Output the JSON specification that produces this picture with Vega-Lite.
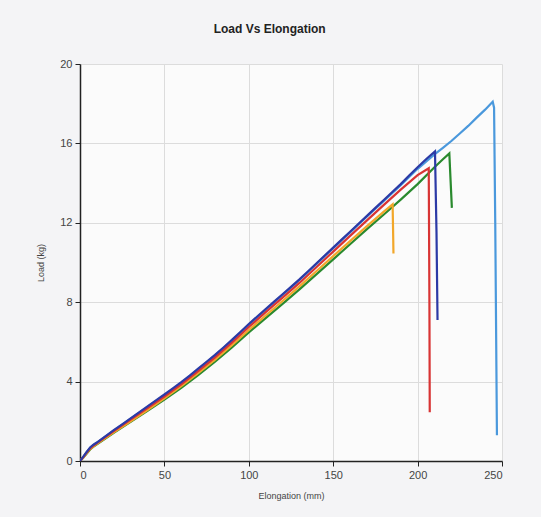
{
  "$schema": "https://vega.github.io/schema/vega-lite/v6.json",
  "autosize": "none",
  "width": 422,
  "height": 397,
  "padding": {"left": 80, "top": 64, "right": 39, "bottom": 56},
  "background": "#f4f4f6",
  "config": {
    "view": {"stroke": null, "fill": "#ffffff", "fillOpacity": 0.6},
    "font": "Liberation Sans"
  },
  "title": {
    "text": "Load Vs Elongation",
    "fontSize": 12,
    "fontWeight": "bold",
    "color": "#222222",
    "frame": "bounds",
    "anchor": "middle",
    "offset": 22
  },
  "datasets": {
    "curves": [
      {"s": "A", "i": 0, "x": 0, "y": 0}, {"s": "A", "i": 1, "x": 2, "y": 0.22}, {"s": "A", "i": 2, "x": 4, "y": 0.46}, {"s": "A", "i": 3, "x": 6, "y": 0.67}, {"s": "A", "i": 4, "x": 8, "y": 0.81}, {"s": "A", "i": 5, "x": 10, "y": 0.92}, {"s": "A", "i": 6, "x": 20, "y": 1.53}, {"s": "A", "i": 7, "x": 30, "y": 2.13}, {"s": "A", "i": 8, "x": 40, "y": 2.72}, {"s": "A", "i": 9, "x": 50, "y": 3.32}, {"s": "A", "i": 10, "x": 60, "y": 3.94}, {"s": "A", "i": 11, "x": 70, "y": 4.62}, {"s": "A", "i": 12, "x": 80, "y": 5.32}, {"s": "A", "i": 13, "x": 90, "y": 6.07}, {"s": "A", "i": 14, "x": 100, "y": 6.86}, {"s": "A", "i": 15, "x": 110, "y": 7.62}, {"s": "A", "i": 16, "x": 120, "y": 8.37}, {"s": "A", "i": 17, "x": 130, "y": 9.12}, {"s": "A", "i": 18, "x": 140, "y": 9.92}, {"s": "A", "i": 19, "x": 150, "y": 10.72}, {"s": "A", "i": 20, "x": 160, "y": 11.52}, {"s": "A", "i": 21, "x": 170, "y": 12.32}, {"s": "A", "i": 22, "x": 180, "y": 13.1}, {"s": "A", "i": 23, "x": 190, "y": 13.9}, {"s": "A", "i": 24, "x": 200, "y": 14.72}, {"s": "A", "i": 25, "x": 210, "y": 15.45}, {"s": "A", "i": 26, "x": 215, "y": 15.78}, {"s": "A", "i": 27, "x": 220, "y": 16.12}, {"s": "A", "i": 28, "x": 225, "y": 16.5}, {"s": "A", "i": 29, "x": 230, "y": 16.88}, {"s": "A", "i": 30, "x": 235, "y": 17.3}, {"s": "A", "i": 31, "x": 240, "y": 17.7}, {"s": "A", "i": 32, "x": 244.5, "y": 18.1}, {"s": "A", "i": 33, "x": 245.3, "y": 17.8}, {"s": "A", "i": 34, "x": 246, "y": 12}, {"s": "A", "i": 35, "x": 247, "y": 1.3},

      {"s": "G", "i": 0, "x": 0, "y": 0}, {"s": "G", "i": 1, "x": 2, "y": 0.17}, {"s": "G", "i": 2, "x": 4, "y": 0.38}, {"s": "G", "i": 3, "x": 6, "y": 0.58}, {"s": "G", "i": 4, "x": 8, "y": 0.72}, {"s": "G", "i": 5, "x": 10, "y": 0.84}, {"s": "G", "i": 6, "x": 20, "y": 1.42}, {"s": "G", "i": 7, "x": 30, "y": 1.97}, {"s": "G", "i": 8, "x": 40, "y": 2.53}, {"s": "G", "i": 9, "x": 50, "y": 3.1}, {"s": "G", "i": 10, "x": 60, "y": 3.69}, {"s": "G", "i": 11, "x": 70, "y": 4.33}, {"s": "G", "i": 12, "x": 80, "y": 5.0}, {"s": "G", "i": 13, "x": 90, "y": 5.72}, {"s": "G", "i": 14, "x": 100, "y": 6.48}, {"s": "G", "i": 15, "x": 110, "y": 7.2}, {"s": "G", "i": 16, "x": 120, "y": 7.92}, {"s": "G", "i": 17, "x": 130, "y": 8.65}, {"s": "G", "i": 18, "x": 140, "y": 9.4}, {"s": "G", "i": 19, "x": 150, "y": 10.16}, {"s": "G", "i": 20, "x": 160, "y": 10.92}, {"s": "G", "i": 21, "x": 170, "y": 11.68}, {"s": "G", "i": 22, "x": 180, "y": 12.42}, {"s": "G", "i": 23, "x": 190, "y": 13.17}, {"s": "G", "i": 24, "x": 200, "y": 13.95}, {"s": "G", "i": 25, "x": 210, "y": 14.8}, {"s": "G", "i": 26, "x": 215, "y": 15.2}, {"s": "G", "i": 27, "x": 218.8, "y": 15.5}, {"s": "G", "i": 28, "x": 219.5, "y": 14.2}, {"s": "G", "i": 29, "x": 220.3, "y": 12.75},

      {"s": "O", "i": 0, "x": 0, "y": 0}, {"s": "O", "i": 1, "x": 2, "y": 0.18}, {"s": "O", "i": 2, "x": 4, "y": 0.4}, {"s": "O", "i": 3, "x": 6, "y": 0.6}, {"s": "O", "i": 4, "x": 8, "y": 0.74}, {"s": "O", "i": 5, "x": 10, "y": 0.86}, {"s": "O", "i": 6, "x": 20, "y": 1.44}, {"s": "O", "i": 7, "x": 30, "y": 2.0}, {"s": "O", "i": 8, "x": 40, "y": 2.57}, {"s": "O", "i": 9, "x": 50, "y": 3.16}, {"s": "O", "i": 10, "x": 60, "y": 3.77}, {"s": "O", "i": 11, "x": 70, "y": 4.43}, {"s": "O", "i": 12, "x": 80, "y": 5.11}, {"s": "O", "i": 13, "x": 90, "y": 5.84}, {"s": "O", "i": 14, "x": 100, "y": 6.6}, {"s": "O", "i": 15, "x": 110, "y": 7.33}, {"s": "O", "i": 16, "x": 120, "y": 8.06}, {"s": "O", "i": 17, "x": 130, "y": 8.8}, {"s": "O", "i": 18, "x": 140, "y": 9.56}, {"s": "O", "i": 19, "x": 150, "y": 10.32}, {"s": "O", "i": 20, "x": 160, "y": 11.08}, {"s": "O", "i": 21, "x": 170, "y": 11.83}, {"s": "O", "i": 22, "x": 180, "y": 12.56}, {"s": "O", "i": 23, "x": 185.2, "y": 12.93}, {"s": "O", "i": 24, "x": 185.5, "y": 11.5}, {"s": "O", "i": 25, "x": 185.7, "y": 10.45},

      {"s": "R", "i": 0, "x": 0, "y": 0}, {"s": "R", "i": 1, "x": 2, "y": 0.2}, {"s": "R", "i": 2, "x": 4, "y": 0.43}, {"s": "R", "i": 3, "x": 6, "y": 0.64}, {"s": "R", "i": 4, "x": 8, "y": 0.78}, {"s": "R", "i": 5, "x": 10, "y": 0.9}, {"s": "R", "i": 6, "x": 20, "y": 1.5}, {"s": "R", "i": 7, "x": 30, "y": 2.08}, {"s": "R", "i": 8, "x": 40, "y": 2.66}, {"s": "R", "i": 9, "x": 50, "y": 3.25}, {"s": "R", "i": 10, "x": 60, "y": 3.86}, {"s": "R", "i": 11, "x": 70, "y": 4.53}, {"s": "R", "i": 12, "x": 80, "y": 5.22}, {"s": "R", "i": 13, "x": 90, "y": 5.96}, {"s": "R", "i": 14, "x": 100, "y": 6.75}, {"s": "R", "i": 15, "x": 110, "y": 7.5}, {"s": "R", "i": 16, "x": 120, "y": 8.23}, {"s": "R", "i": 17, "x": 130, "y": 8.97}, {"s": "R", "i": 18, "x": 140, "y": 9.76}, {"s": "R", "i": 19, "x": 150, "y": 10.55}, {"s": "R", "i": 20, "x": 160, "y": 11.34}, {"s": "R", "i": 21, "x": 170, "y": 12.12}, {"s": "R", "i": 22, "x": 180, "y": 12.9}, {"s": "R", "i": 23, "x": 190, "y": 13.67}, {"s": "R", "i": 24, "x": 200, "y": 14.4}, {"s": "R", "i": 25, "x": 206.6, "y": 14.75}, {"s": "R", "i": 26, "x": 207.0, "y": 8}, {"s": "R", "i": 27, "x": 207.2, "y": 2.45},

      {"s": "B", "i": 0, "x": 0, "y": 0}, {"s": "B", "i": 1, "x": 2, "y": 0.22}, {"s": "B", "i": 2, "x": 4, "y": 0.46}, {"s": "B", "i": 3, "x": 6, "y": 0.68}, {"s": "B", "i": 4, "x": 8, "y": 0.82}, {"s": "B", "i": 5, "x": 10, "y": 0.93}, {"s": "B", "i": 6, "x": 15, "y": 1.24}, {"s": "B", "i": 7, "x": 20, "y": 1.55}, {"s": "B", "i": 8, "x": 25, "y": 1.85}, {"s": "B", "i": 9, "x": 30, "y": 2.15}, {"s": "B", "i": 10, "x": 35, "y": 2.45}, {"s": "B", "i": 11, "x": 40, "y": 2.75}, {"s": "B", "i": 12, "x": 45, "y": 3.05}, {"s": "B", "i": 13, "x": 50, "y": 3.35}, {"s": "B", "i": 14, "x": 55, "y": 3.66}, {"s": "B", "i": 15, "x": 60, "y": 3.97}, {"s": "B", "i": 16, "x": 65, "y": 4.3}, {"s": "B", "i": 17, "x": 70, "y": 4.65}, {"s": "B", "i": 18, "x": 75, "y": 5.0}, {"s": "B", "i": 19, "x": 80, "y": 5.35}, {"s": "B", "i": 20, "x": 85, "y": 5.72}, {"s": "B", "i": 21, "x": 90, "y": 6.1}, {"s": "B", "i": 22, "x": 95, "y": 6.5}, {"s": "B", "i": 23, "x": 100, "y": 6.9}, {"s": "B", "i": 24, "x": 105, "y": 7.28}, {"s": "B", "i": 25, "x": 110, "y": 7.66}, {"s": "B", "i": 26, "x": 115, "y": 8.03}, {"s": "B", "i": 27, "x": 120, "y": 8.4}, {"s": "B", "i": 28, "x": 125, "y": 8.77}, {"s": "B", "i": 29, "x": 130, "y": 9.15}, {"s": "B", "i": 30, "x": 135, "y": 9.55}, {"s": "B", "i": 31, "x": 140, "y": 9.95}, {"s": "B", "i": 32, "x": 145, "y": 10.35}, {"s": "B", "i": 33, "x": 150, "y": 10.75}, {"s": "B", "i": 34, "x": 155, "y": 11.15}, {"s": "B", "i": 35, "x": 160, "y": 11.55}, {"s": "B", "i": 36, "x": 165, "y": 11.95}, {"s": "B", "i": 37, "x": 170, "y": 12.35}, {"s": "B", "i": 38, "x": 175, "y": 12.75}, {"s": "B", "i": 39, "x": 180, "y": 13.15}, {"s": "B", "i": 40, "x": 185, "y": 13.55}, {"s": "B", "i": 41, "x": 190, "y": 13.95}, {"s": "B", "i": 42, "x": 195, "y": 14.38}, {"s": "B", "i": 43, "x": 200, "y": 14.8}, {"s": "B", "i": 44, "x": 205, "y": 15.2}, {"s": "B", "i": 45, "x": 210.3, "y": 15.6}, {"s": "B", "i": 46, "x": 211.2, "y": 11.5}, {"s": "B", "i": 47, "x": 211.8, "y": 7.1}
    ]
  },
  "data": {"name": "curves"},
  "mark": {"type": "line", "strokeWidth": 2.2, "clip": true},
  "encoding": {
    "x": {
      "field": "x",
      "type": "quantitative",
      "scale": {"domain": [0, 250], "nice": false},
      "axis": {
        "title": "Elongation (mm)",
        "values": [0, 50, 100, 150, 200, 250],
        "titleFontSize": 9,
        "titleFontWeight": "normal",
        "titleColor": "#444444",
        "titlePadding": 11,
        "labelFontSize": 11,
        "labelColor": "#444444",
        "labelPadding": 3,
        "domainColor": "#222222",
        "domainWidth": 1.5,
        "tickColor": "#222222",
        "tickSize": 5,
        "gridColor": "#dcdcdc"
      }
    },
    "y": {
      "field": "y",
      "type": "quantitative",
      "scale": {"domain": [0, 20], "nice": false},
      "axis": {
        "title": "Load (kg)",
        "values": [0, 4, 8, 12, 16, 20],
        "titleFontSize": 9,
        "titleFontWeight": "normal",
        "titleColor": "#444444",
        "titlePadding": 14,
        "labelFontSize": 11,
        "labelColor": "#444444",
        "labelPadding": 3,
        "domainColor": "#222222",
        "domainWidth": 1.5,
        "tickColor": "#222222",
        "tickSize": 5,
        "gridColor": "#dcdcdc"
      }
    },
    "color": {
      "field": "s",
      "type": "nominal",
      "scale": {"domain": ["A", "G", "O", "R", "B"], "range": ["#4a98dc", "#2a8a2e", "#f2a72a", "#d83434", "#2c3aa6"]},
      "legend": null
    },
    "detail": {"field": "s"},
    "order": {"field": "i", "type": "quantitative"}
  }
}
